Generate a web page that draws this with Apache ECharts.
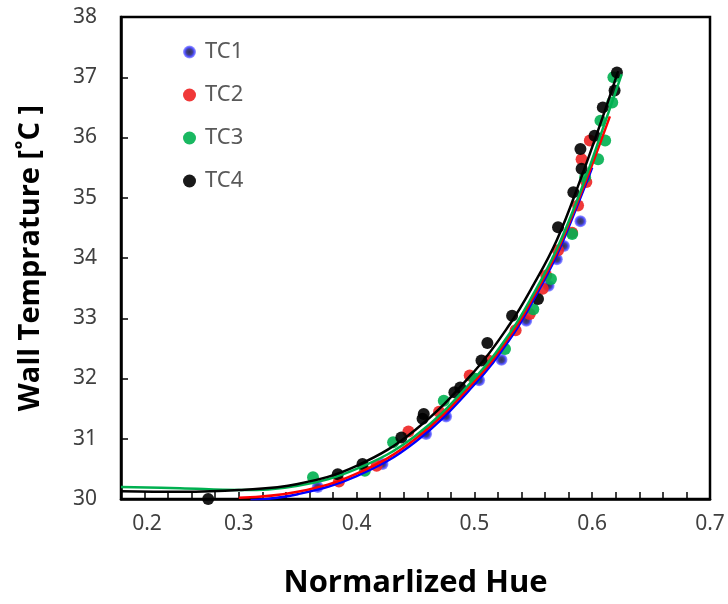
<!DOCTYPE html>
<html>
<head>
<meta charset="utf-8">
<script src="https://cdn.jsdelivr.net/npm/echarts@6/dist/echarts.min.js"></script>
<style>
html,body{margin:0;padding:0;background:#fff;}
#chart{width:728px;height:604px;}
</style>
</head>
<body>
<div id="chart"></div>
<script>
// ---- data ----
const seriesNames = ['TC1', 'TC2', 'TC3', 'TC4'];
const xTicks = [0.2, 0.3, 0.4, 0.5, 0.6, 0.7];
const yTicks = [30, 31, 32, 33, 34, 35, 36, 37, 38];

const tc1 = [[0.367,30.20],[0.422,30.58],[0.459,31.08],[0.476,31.37],[0.504,31.97],[0.523,32.31],
  [0.544,32.96],[0.563,33.54],[0.570,33.98],[0.576,34.20],[0.590,34.61]];
const tc2 = [[0.385,30.29],[0.417,30.55],[0.444,31.12],[0.470,31.45],[0.496,32.05],[0.512,32.30],
  [0.535,32.80],[0.547,33.07],[0.558,33.49],[0.561,33.71],[0.571,34.13],[0.583,34.42],
  [0.588,34.87],[0.595,35.26],[0.591,35.64],[0.598,35.95]];
const tc3 = [[0.363,30.36],[0.407,30.47],[0.431,30.94],[0.474,31.63],[0.500,32.00],[0.526,32.49],
  [0.550,33.15],[0.565,33.65],[0.583,34.40],[0.594,35.34],[0.605,35.64],[0.611,35.95],
  [0.607,36.28],[0.617,36.58],[0.618,37.00]];
const tc4 = [[0.274,30.00],[0.384,30.41],[0.405,30.58],[0.438,31.02],[0.456,31.33],[0.457,31.41],
  [0.483,31.77],[0.488,31.85],[0.506,32.30],[0.511,32.59],[0.532,33.04],[0.554,33.32],
  [0.571,34.51],[0.584,35.09],[0.590,35.81],[0.591,35.48],[0.602,36.03],[0.609,36.50],
  [0.619,36.78],[0.621,37.08]];

// trend curves
const fit1 = [[0.31,29.98],[0.35,30.08],[0.40,30.38],[0.45,30.95],[0.50,31.90],[0.53,32.65],
  [0.55,33.30],[0.57,34.05],[0.59,35.00],[0.60,35.50]];
const fit2 = [[0.30,30.02],[0.35,30.12],[0.40,30.42],[0.45,31.00],[0.50,31.95],[0.53,32.70],
  [0.55,33.35],[0.57,34.10],[0.59,35.05],[0.60,35.55],[0.615,36.35]];
const fit3 = [[0.20,30.20],[0.25,30.18],[0.30,30.15],[0.35,30.22],[0.40,30.50],[0.45,31.05],
  [0.50,32.00],[0.53,32.75],[0.55,33.40],[0.57,34.15],[0.59,35.10],[0.61,36.20],[0.625,37.05]];
const fit4 = [[0.20,30.13],[0.25,30.12],[0.30,30.15],[0.35,30.25],[0.40,30.55],[0.45,31.15],
  [0.50,32.12],[0.53,32.90],[0.55,33.55],[0.57,34.30],[0.59,35.30],[0.61,36.40],[0.622,37.10]];

const colors = ['#1a1aff', '#ee2222', '#00b050', '#000000'];
const lineColors = ['#0000ff', '#ff0000', '#00b050', '#000000'];
const points = [tc1, tc2, tc3, tc4];
const fits = [fit1, fit2, fit3, fit4];

const blueGrad = {type: 'radial', x: 0.5, y: 0.5, r: 0.5,
  colorStops: [{offset: 0, color: '#000030'}, {offset: 0.45, color: '#10106a'}, {offset: 0.7, color: '#2222ff'}, {offset: 1, color: 'rgba(60,60,255,0.6)'}]};

const chart = echarts.init(document.getElementById('chart'), null, {renderer: 'canvas'});

const series = [];
points.forEach((d, i) => {
  series.push({
    name: seriesNames[i], type: 'scatter', data: d, symbol: 'circle', symbolSize: 12,
    z: 2,
    itemStyle: i === 0 ? {color: blueGrad} : {color: colors[i], opacity: 0.9}
  });
});
fits.forEach((d, i) => {
  series.push({
    name: seriesNames[i] + ' fit', type: 'line', data: d, smooth: 0.4, showSymbol: false,
    z: 3, lineStyle: {color: lineColors[i], width: 2.5}, itemStyle: {color: lineColors[i]}
  });
});

chart.setOption({
  animation: false,
  backgroundColor: '#fff',
  grid: {left: 121, top: 17, right: 18, bottom: 104, show: true, borderColor: '#000', borderWidth: 2.5},
  legend: {
    data: seriesNames.map((n, i) => ({name: n, icon: 'circle', itemStyle: i === 0 ? {color: blueGrad} : undefined})),
    orient: 'vertical', left: 178, top: 35,
    itemWidth: 13, itemHeight: 13, itemGap: 19,
    textStyle: {fontFamily: 'Noto Sans', fontSize: 22, lineHeight: 24, color: '#595959', padding: [0, 0, 0, 4]}
  },
  xAxis: {
    type: 'value', min: 0.2, max: 0.7, interval: 0.1,
    name: 'Normarlized Hue', nameLocation: 'middle', nameGap: 69,
    nameTextStyle: {fontFamily: 'Open Sans', fontWeight: 'bold', fontSize: 31, color: '#000'},
    axisLine: {lineStyle: {color: '#000', width: 2.5}},
    axisTick: {inside: true, length: 7, lineStyle: {color: '#000', width: 1.5}},
    minorTick: {show: true, splitNumber: 5, length: 7, lineStyle: {color: '#000', width: 1.5}},
    splitLine: {show: false},
    axisLabel: {
      fontFamily: 'Noto Sans', fontSize: 21, color: '#404040', margin: 15,
      formatter: v => {
        const s = v.toFixed(1);
        return Math.abs(v - xTicks[0]) < 1e-9 ? '{s|' + s + '}' : s;
      },
      rich: {s: {fontFamily: 'Noto Sans', fontSize: 21, color: '#404040', padding: [0, 0, 0, 52]}}
    }
  },
  yAxis: {
    type: 'value', min: yTicks[0], max: yTicks[yTicks.length - 1], interval: 1,
    name: 'Wall Temprature [˚C ]', nameLocation: 'middle', nameGap: 76,
    nameTextStyle: {fontFamily: 'Open Sans', fontWeight: 'bold', fontSize: 29, color: '#000'},
    axisLine: {lineStyle: {color: '#000', width: 2.5}},
    axisTick: {inside: true, length: 7, lineStyle: {color: '#000', width: 1.5}},
    splitLine: {show: false},
    axisLabel: {fontFamily: 'Noto Sans', fontSize: 21, color: '#404040', margin: 24}
  },
  series: series
});
</script>
</body>
</html>
